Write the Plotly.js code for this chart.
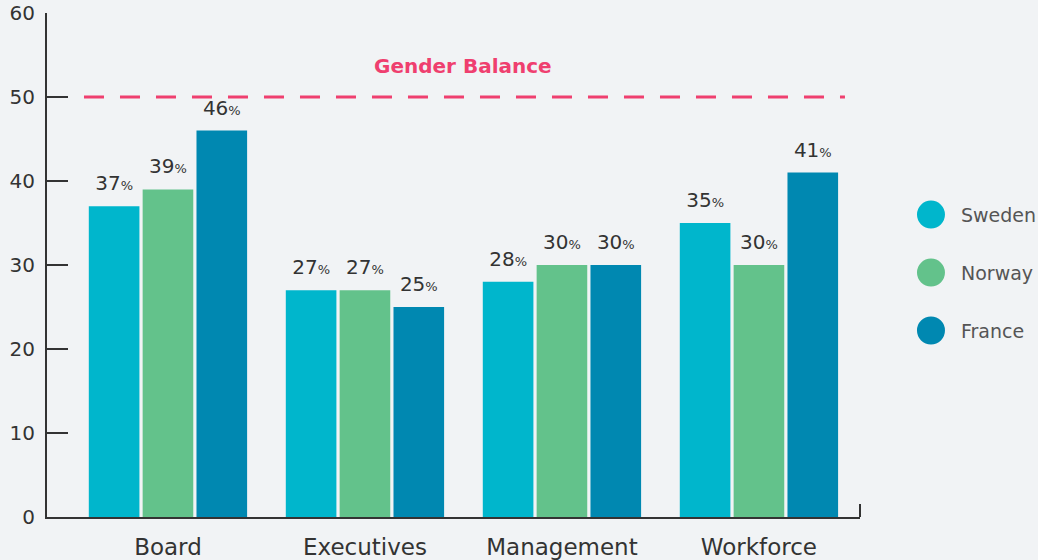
<!DOCTYPE html>
<html>
<head>
<meta charset="utf-8">
<script src="https://cdn.plot.ly/plotly-3.0.1.min.js"></script>
<style>
html,body{margin:0;padding:0;background:#f1f3f5;}
#chart{width:1038px;height:560px;}
</style>
</head>
<body>
<div id="chart"></div>
<script>
const categories = ["Board", "Executives", "Management", "Workforce"];
const seriesNames = ["Sweden", "Norway", "France"];
const sweden = [37, 27, 28, 35];
const norway = [39, 27, 30, 30];
const france = [46, 25, 30, 41];
const balanceLevel = 50;
const balanceLabel = "Gender Balance";
const yTicks = [0, 10, 20, 30, 40, 50, 60];

const colors = ["#00b6cc", "#63c28b", "#0088b1"];
const values = [sweden, norway, france];
const FONT = "'DejaVu Sans', sans-serif";
const GAP = 0.18;

const traces = [];
seriesNames.forEach((name, i) => {
  traces.push({
    type: "bar",
    name: name,
    x: categories,
    y: values[i],
    marker: {color: colors[i]},
    offsetgroup: String(i),
    hoverinfo: "x+y+name",
    showlegend: false
  });
});
// value labels, grouped like the bars
seriesNames.forEach((name, i) => {
  traces.push({
    type: "scatter",
    mode: "markers+text",
    name: name,
    x: categories,
    y: values[i],
    offsetgroup: String(i),
    text: values[i].map(v => v + '<span style="font-size:13px">%</span>'),
    textposition: "top center",
    marker: {size: 16, opacity: 0, color: colors[i]},
    textfont: {family: FONT, size: 20, color: "#333333"},
    cliponaxis: false,
    hoverinfo: "skip",
    showlegend: false
  });
});

const shapes = [
  {type: "line", xref: "paper", yref: "y", x0: 0.0455, x1: 0.9815, y0: balanceLevel, y1: balanceLevel,
   line: {color: "#ef3f6f", width: 3, dash: "20px,16px"}},
  {type: "line", xref: "paper", yref: "paper", ysizemode: "pixel", yanchor: 0, x0: 1, x1: 1, y0: 0, y1: 13,
   line: {color: "#333333", width: 2}}
];
const annotations = [
  {xref: "paper", yref: "y", x: 0.512, y: 53.7, text: "<b>" + balanceLabel + "</b>", showarrow: false,
   font: {family: FONT, size: 20, color: "#ef3f6f"}}
];

// custom circular legend
seriesNames.forEach((name, i) => {
  const py = 0.60 - i * 0.115;
  shapes.push({type: "circle", xref: "paper", yref: "paper", xsizemode: "pixel", ysizemode: "pixel",
    xanchor: 1.0873, yanchor: py, x0: -14, x1: 14, y0: -14, y1: 14,
    fillcolor: colors[i], line: {width: 0}});
  annotations.push({xref: "paper", yref: "paper", x: 1.122, y: py, xanchor: "left", yanchor: "middle",
    text: name, showarrow: false, font: {family: FONT, size: 19, color: "#555555"}});
});

const layout = {
  width: 1038, height: 560,
  margin: {l: 47, r: 178, t: 13, b: 43},
  paper_bgcolor: "#f1f3f5",
  plot_bgcolor: "#f1f3f5",
  barmode: "group",
  bargap: GAP,
  bargroupgap: 0.06,
  scattermode: "group",
  scattergap: GAP,
  showlegend: false,
  font: {family: FONT, color: "#333333"},
  xaxis: {
    range: [-0.614, 3.513],
    showline: true, linecolor: "#333333", linewidth: 2,
    ticks: "", showgrid: false, zeroline: false,
    tickfont: {family: FONT, size: 23, color: "#333333"},
    ticklabelstandoff: 8
  },
  yaxis: {
    range: [0, 60],
    tickvals: yTicks,
    showline: true, linecolor: "#333333", linewidth: 2,
    ticks: "inside", ticklen: 21, tickwidth: 2, tickcolor: "#333333",
    showgrid: false, zeroline: false,
    tickfont: {family: FONT, size: 20, color: "#333333"},
    ticklabelstandoff: 6
  },
  shapes: shapes,
  annotations: annotations
};

Plotly.newPlot("chart", traces, layout, {displayModeBar: false, staticPlot: true});
</script>
</body>
</html>
